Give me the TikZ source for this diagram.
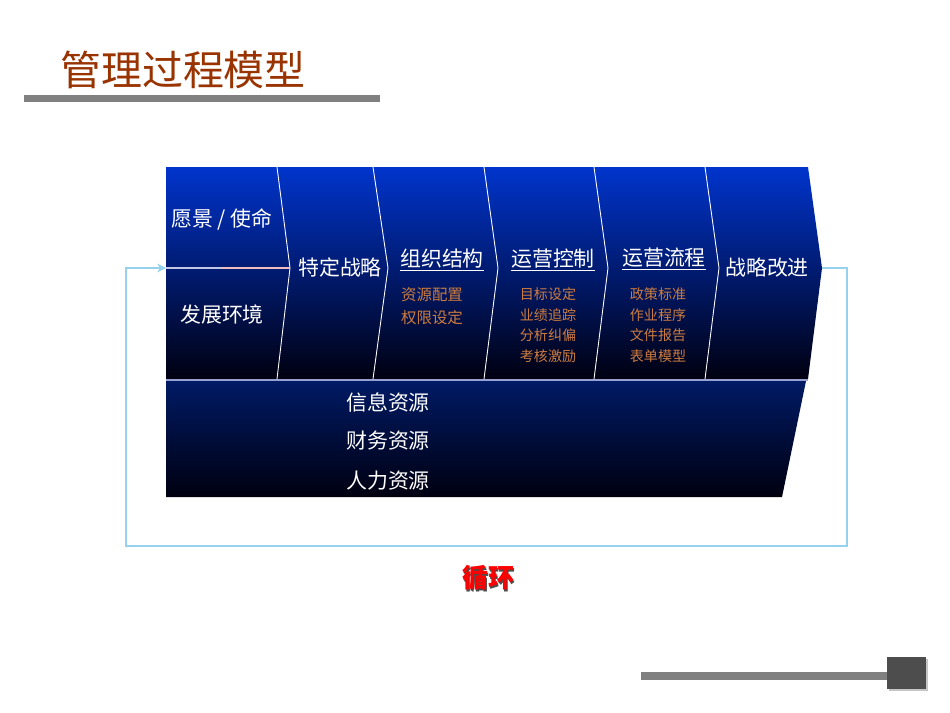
\documentclass[tikz,border=0pt]{standalone}
\usepackage{fontspec}
\setmainfont{Noto Sans CJK SC}
\usetikzlibrary{arrows.meta}
\definecolor{titlebrown}{RGB}{153,51,0}
\definecolor{itembrown}{RGB}{204,124,64}
\definecolor{loopblue}{RGB}{150,210,238}
\definecolor{blocktop}{RGB}{0,52,204}
\definecolor{blockbot}{RGB}{0,0,16}
\definecolor{basetop}{RGB}{0,26,100}
\definecolor{bargray}{RGB}{128,128,128}
\definecolor{boxgray}{RGB}{77,77,77}
\definecolor{seamblue}{RGB}{150,160,210}
\definecolor{splitpink}{RGB}{240,190,190}

\begin{document}
\begin{tikzpicture}[x=0.02cm,y=-0.02cm,>={Stealth[length=5pt,width=5pt]}]
		\tikzstyle{every node}=[inner sep=0pt]
		\tikzstyle{head}=[text=white,font=\fontsize{11.9}{14}\selectfont]
		\tikzstyle{item}=[text=itembrown,align=center,font=\fontsize{8}{11.65}\selectfont]
		\tikzstyle{divider}=[draw=white,line width=0.5pt]
		\tikzstyle{loopline}=[draw=loopblue,line width=0.8pt]
		
		\fill[white] (0,0) rectangle (950,713);
		\useasboundingbox (0,0) rectangle (950,713);
		
		% title and bars
		\node[text=titlebrown,font=\fontsize{23.3}{28}\selectfont] (title) at (183,70) {管理过程模型};
		\fill[bargray] (24,95) rectangle (380,102);
		\fill[bargray] (641,672) rectangle (887,680);
		\fill[gray!45] (889,659) rectangle (928,691);
		\fill[boxgray] (887,657) rectangle (926,689);
		
		% blocks
		\shade[top color=blocktop,bottom color=blockbot] (166,167) -- (808,167) -- (822,268) -- (808,379) -- (166,379) -- cycle;
		\shade[top color=basetop,bottom color=blockbot] (166,381) -- (806,381) -- (782,497) -- (166,497) -- cycle;
		\draw[seamblue,line width=0.8pt] (166,380) -- (808,380);
		\draw[divider] (277,167) -- (290,268) -- (277,379);
		\draw[divider] (373,167) -- (388,268) -- (373,379);
		\draw[divider] (484,167) -- (498,268) -- (484,379);
		\draw[divider] (594,167) -- (608,268) -- (594,379);
		\draw[divider] (705,167) -- (719,268) -- (705,379);
		\draw[seamblue!60!white,line width=0.8pt] (166,268) -- (222,268);
		\draw[splitpink,line width=0.8pt] (222,268) -- (290,268);
		
		% loop
		\coordinate (tip) at (822,268);
		\coordinate (in) at (166,268);
		\draw[loopline,->] (tip) -- (847,268) |- (126,546) |- (in);
		
		% texts
		\node[head] (vision) at (222,219) {愿景 / 使命};
		\node[head] (env) at (222,315) {发展环境};
		\node[head] (strategy) at (340,268) {特定战略};
		\node[head] (org) at (442,260) {\underline{组织结构}};
		\node[item,font=\fontsize{8.8}{13.1}\selectfont] (orgitems) at (432,306) {资源配置\\权限设定};
		\node[head] (ctrl) at (553,260) {\underline{运营控制}};
		\node[item] (ctrlitems) at (548,325) {目标设定\\业绩追踪\\分析纠偏\\考核激励};
		\node[head] (flow) at (664,259) {\underline{运营流程}};
		\node[item] (flowitems) at (658,325) {政策标准\\作业程序\\文件报告\\表单模型};
		\node[head] (improve) at (767,268) {战略改进};
		\node[head] (info) at (388,402) {信息资源};
		\node[head] (finance) at (388,441) {财务资源};
		\node[head] (people) at (388,481) {人力资源};
		
		\node[text=black!70,font=\fontsize{14.8}{18}\selectfont\bfseries] (cycleshadow) at (489.5,579.5) {循环};
		\node[text=red,font=\fontsize{14.8}{18}\selectfont\bfseries] (cycle) at (488,578) {循环};
	\end{tikzpicture}
\end{document}
